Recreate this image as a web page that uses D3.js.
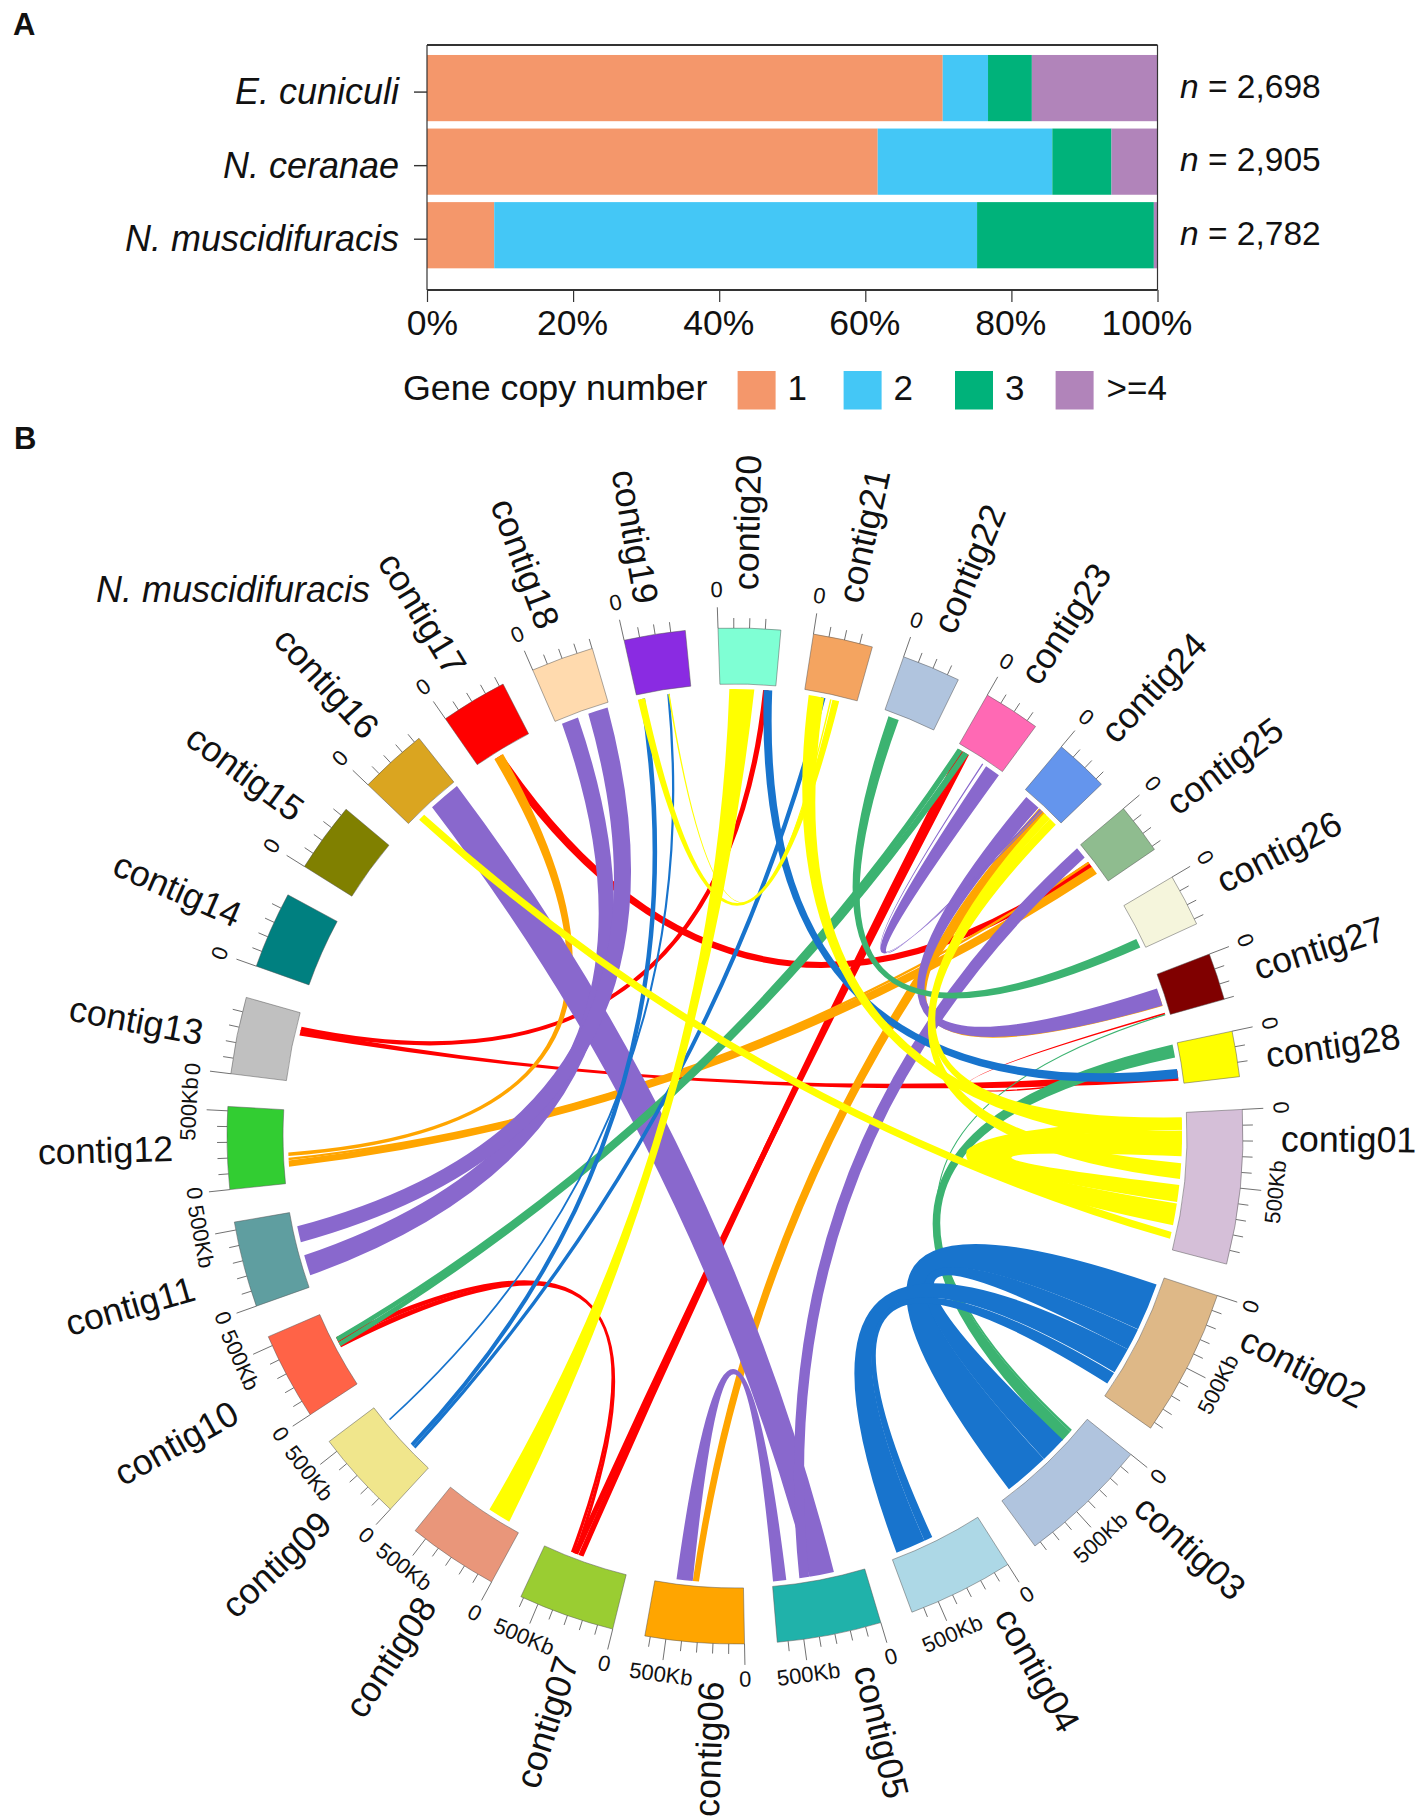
<!DOCTYPE html>
<html><head><meta charset="utf-8">
<script src="https://cdn.jsdelivr.net/npm/d3@7"></script>
<style>
html,body{margin:0;padding:0;background:#fff}
svg{display:block}
text{font-family:"Liberation Sans",Arial,sans-serif;fill:#111}
</style></head><body>
<div id="chart"></div>
<script>
// ---------- Panel A data ----------
const species = ["E. cuniculi","N. ceranae","N. muscidifuracis"];
const copyClasses = ["1","2","3",">=4"];
const copyColours = ["#F4976B","#44C7F6","#00B27A","#B184BA"];
const copy1 = [70.6,61.7,9.2];
const copy2 = [6.2,23.9,66.1];
const copy3 = [6.0,8.1,24.2];
const copy4 = [17.2,6.3,0.5];
const geneCounts = ["2,698","2,905","2,782"];
const pctTicks = [0,20,40,60,80,100];

// ---------- Panel B data ----------
const contigLengths = [989,944,843,680,669,635,618,584,579,562,551,528,494,495,449,438,427,402,393,399,382,376,365,348,325,335,302,292];
const contigColours = ["#D5BFD8","#DEB887","#B0C4DE","#ADD8E6","#20B2AA","#FFA500","#9ACD32","#E9967A","#F0E68C","#FF6347","#5F9EA0","#32CD32","#C0C0C0","#008080","#808000","#DAA520","#FF0000","#FFDAAE","#8A2BE2","#7FFFD4","#F4A460","#B0C4DE","#FF69B4","#6495ED","#8FBC8F","#F5F5DC","#800000","#FFFF00"];
// links: contig A, start kb, end kb, contig B, start kb, end kb, optional waist, optional shift
const redLinks = [
 [13,365,399,20,310,350],[13,335,375,28,200,270,0.4],[17,129,190,25,130,180],[27,280,292,28,190,208],
 [7,331,370,23,20,60],[7,372,410,23,60,100],[7,378,403,10,325,365],[7,403,427,10,285,325]];
const orangeLinks = [
 [12,197,222,17,124,197],[12,166,183,25,129,146],[12,118,163,25,174,236],[6,320,365,24,163,231],[24,163,213,27,157,228]];
const purpleLinks = [
 [16,202,438,5,219,399],[25,3,90,5,401,472],[5,567,663,6,365,483],[18,39,163,11,79,230],[18,242,388,11,326,444],
 [27,96,225,24,39,157],[23,247,360,24,169,185],[23,213,222,24,191,199]];
const greenLinks = [
 [10,292,326,23,51,96],[10,331,365,23,6,45],[22,39,118,26,253,320],[28,6,101,3,146,236],[27,289,298,3,129,146]];
const blueLinks = [
 [20,315,376,28,185,253],[9,163,185,21,124,157],[9,185,213,19,22,56],[9,438,449,19,219,236],
 [3,420,753,2,62,411],[3,225,419,2,412,573,null,8],[4,416,635,2,573,764],[4,354,416,2,770,860,null,5]];
const yellowLinks = [
 [20,67,247,8,96,264,0.3],[19,3,56,21,208,258],[19,225,236,21,191,202],[16,73,124,1,865,916],
 [21,34,146,1,146,230,0.6],[24,213,270,1,365,478],[24,270,331,1,34,124],[1,39,124,1,657,815,1.3,7],[1,129,315,1,522,646,2.1,18]];
const linkGroups = [
 {links:redLinks,colour:"#FF0000"},{links:orangeLinks,colour:"#FFA500"},{links:purpleLinks,colour:"#8968CD"},
 {links:greenLinks,colour:"#3CB371"},{links:blueLinks,colour:"#1874CD"},{links:yellowLinks,colour:"#FFFF00"}];

const svg = d3.select("#chart").append("svg").attr("width",1421).attr("height",1817);

// panel letters
svg.append("text").attr("x",13).attr("y",35).attr("font-size",31).attr("font-weight","bold").text("A");
svg.append("text").attr("x",14).attr("y",449).attr("font-size",31).attr("font-weight","bold").text("B");

// ---------- Panel A ----------
const x = d3.scaleLinear().domain([0,100]).range([427,1157.5]);
const y = d3.scaleBand().domain(species).range([51.3,272]).paddingInner(0.1).paddingOuter(0.05);
const rows = species.map((s,i)=>({s,vals:[copy1[i],copy2[i],copy3[i],copy4[i]],n:geneCounts[i]}));
const a = svg.append("g");
rows.forEach(r=>{
  let cum=0;
  r.vals.forEach((v,j)=>{
    a.append("rect").attr("x",x(cum)).attr("y",y(r.s)).attr("width",x(cum+v)-x(cum)).attr("height",y.bandwidth()).attr("fill",copyColours[j]);
    cum+=v;
  });
  const t=a.append("text").attr("x",1180).attr("y",y(r.s)+y.bandwidth()/2+9.5).attr("font-size",33.5);
  t.append("tspan").attr("font-style","italic").text("n");
  t.append("tspan").text(" = "+r.n);
});
const frame = a.append("g").attr("stroke","#333").attr("fill","none");
frame.append("line").attr("x1",x(0)).attr("x2",x(100)).attr("y1",45).attr("y2",45).attr("stroke-width",2.2);
frame.append("line").attr("x1",x(0)).attr("x2",x(100)).attr("y1",290).attr("y2",290).attr("stroke-width",2.2);
frame.append("line").attr("x1",x(0)).attr("x2",x(0)).attr("y1",45).attr("y2",290).attr("stroke-width",1.2);
frame.append("line").attr("x1",x(100)).attr("x2",x(100)).attr("y1",45).attr("y2",290).attr("stroke-width",1.2);

const xAxis = a.append("g").attr("transform","translate(0,290)")
  .call(d3.axisBottom(x).tickValues(pctTicks).tickFormat(d=>d+"%").tickSize(12).tickPadding(0));
xAxis.select(".domain").remove();
xAxis.selectAll("line").attr("stroke","#333").attr("stroke-width",1.2);
xAxis.selectAll("text").attr("font-size",35.5).attr("y",45).attr("dy",0).style("font-family",'"Liberation Sans"').attr("fill","#111")
  .attr("dx",d=>d===0?5:d===100?-11:-1);

const yAxis = a.append("g").attr("transform","translate("+x(0)+",4)")
  .call(d3.axisLeft(y).tickSize(13).tickPadding(15));
yAxis.select(".domain").remove();
yAxis.selectAll("line").attr("stroke","#333").attr("stroke-width",1.4);
yAxis.selectAll("text").attr("font-size",36).attr("font-style","italic").attr("dy","0.34em").style("font-family",'"Liberation Sans"').attr("fill","#111");

// legend
const legendX = d3.scaleOrdinal(copyClasses,[737.6,843.6,955,1055.6]);
svg.append("text").attr("x",403).attr("y",400).attr("font-size",35.8).text("Gene copy number");
copyClasses.forEach((c,i)=>{
  svg.append("rect").attr("x",legendX(c)).attr("y",371).attr("width",38).attr("height",38.5).attr("fill",copyColours[i]);
  svg.append("text").attr("x",legendX(c)+(c===">=4"?51:50)).attr("y",400).attr("font-size",35).text(c);
});

// ---------- Panel B: circular plot ----------
const cx=735, cy=1136, rOuter=508, rInner=452, rLink=447, rControl=27;
const degPerKb=0.0178, firstStart=87.0, gapDeg=3.7;
const kbToDeg=d3.scaleLinear().domain([0,1]).range([0,degPerKb]);
const cumKb=[0,...d3.cumsum(contigLengths)];
const contigs=contigLengths.map((len,i)=>({
  idx:i+1,
  name:"contig"+String(i+1).padStart(2,"0"),
  len,colour:contigColours[i],
  start:firstStart+kbToDeg(cumKb[i])+i*gapDeg
}));
// label placement nudges per contig: along the ring (kb), radial (px), tilt (deg)
const nameAlong=[0,0,0,-20,-25,-20,0,55,20,35,0,50,0,25,35,20,0,-30,-40,-15,-5,-15,-15,-15,-15,-15,-10,0];
const nameRadial=[0,0,0,0,0,0,2,11,14,24,16,16,-4,-4,-4,-4,-5,-4,-6,0,0,0,-4,0,0,0,0,-9];
const nameTilt=[0,5,0,0,0,0,0,0,0,0,0,0,0,0,0,0,0,0,0,0,0,0,0,0,0,0,0,0];

const ang=(c,kb)=>contigs[c-1].start+kbToDeg(kb);
const rad=d=>d*Math.PI/180;
const polar=(deg,r)=>[r*Math.sin(rad(deg)),-r*Math.cos(rad(deg))];
const norm=d=>((d%360)+360)%360;

const root=svg.append("g").attr("transform",`translate(${cx},${cy})`);

function edgeInfo(t1,t2){
  const p=norm(t1),q=norm(t2);
  let mid=(p+q)/2, d=Math.abs(p-q);
  if(d>180){mid+=180; d=360-d;}
  return {mid,d,m:rLink*Math.cos(rad(d/2))};
}
function ribbon(l){
  const [c1,s1,e1,c2,s2,e2,waist,shift]=l;
  const a1=ang(c1,s1),a2=ang(c1,e1),b1=ang(c2,s2),b2=ang(c2,e2);
  const E1=edgeInfo(a2,b1),E2=edgeInfo(b2,a1);
  const D=(E1.d+E2.d)/2;
  const f=waist!=null?waist:Math.max(0.35,Math.min(1,0.35+0.7*(D-20)/100));
  const w=(Math.abs(a2-a1)+Math.abs(b2-b1))/2*Math.PI/180*rLink;
  const avg=((E1.m+E2.m)/2+rControl)/2+(shift||0), sep=f*w;
  const apex1=E1.d<=E2.d?avg+sep/2:avg-sep/2;
  const apex2=E1.d<=E2.d?avg-sep/2:avg+sep/2;
  const C1=polar(E1.mid,2*apex1-E1.m), C2=polar(E2.mid,2*apex2-E2.m);
  const p=d3.path();
  const P=polar(a1,rLink); p.moveTo(P[0],P[1]);
  p.arc(0,0,rLink,rad(a1-90),rad(a2-90));
  const Q=polar(b1,rLink);
  p.quadraticCurveTo(C1[0],C1[1],Q[0],Q[1]);
  p.arc(0,0,rLink,rad(b1-90),rad(b2-90));
  p.quadraticCurveTo(C2[0],C2[1],P[0],P[1]);
  p.closePath();
  return p.toString();
}
linkGroups.forEach(g=>{
  root.append("g").selectAll("path").data(g.links).join("path")
    .attr("d",ribbon).attr("fill",g.colour).attr("stroke","none");
});

const arcGen=d3.arc().innerRadius(rInner).outerRadius(rOuter);
root.append("g").selectAll("path").data(contigs).join("path")
  .attr("d",d=>arcGen({startAngle:rad(d.start),endAngle:rad(d.start+kbToDeg(d.len))}))
  .attr("fill",d=>d.colour).attr("stroke","#555").attr("stroke-width",0.5);

const tickStep=100, majorStep=500, tickMinor=10, tickMajor=21, tickLabelR=545, nameR=546, nameKb=202;
contigs.forEach((ct,i)=>{
  d3.range(0,ct.len,tickStep).forEach(kb=>{
    const deg=ct.start+kbToDeg(kb);
    const major=kb%majorStep===0;
    const p0=polar(deg,rOuter),p1=polar(deg,rOuter+(major?tickMajor:tickMinor));
    root.append("line").attr("x1",p0[0]).attr("y1",p0[1]).attr("x2",p1[0]).attr("y2",p1[1])
      .attr("stroke","#333").attr("stroke-width",0.7);
    if(major){
      const n=norm(deg), p=polar(deg,tickLabelR);
      const rot=(n>90&&n<270)?n-180:n;
      root.append("text").attr("transform",`translate(${p[0]},${p[1]}) rotate(${rot})`)
        .attr("text-anchor","middle").attr("dominant-baseline","middle").attr("font-size",22)
        .text(kb===0?"0":"500Kb");
    }
  });
  const deg=ct.start+kbToDeg(nameKb+nameAlong[i]), n=norm(deg), p=polar(deg,nameR+nameRadial[i]);
  const right=n<180;
  root.append("text").attr("transform",`translate(${p[0]},${p[1]}) rotate(${(right?n-90:n+90)+nameTilt[i]})`)
    .attr("text-anchor",right?"start":"end").attr("dominant-baseline","middle").attr("font-size",35.8)
    .text(ct.name);
});
svg.append("text").attr("x",96).attr("y",602).attr("font-size",36).attr("font-style","italic").text("N. muscidifuracis");
</script>
</body></html>
